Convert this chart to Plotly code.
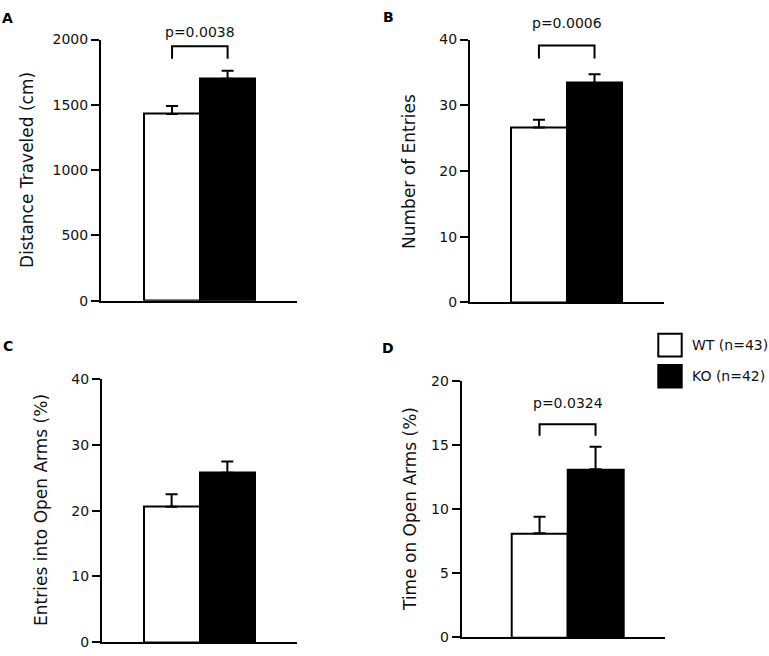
import plotly.graph_objects as go

# --- data (mean, SEM) ---
groups = ["WT (n=43)", "KO (n=42)"]
bar_colors = ["white", "black"]

distance_mean = [1430, 1700]
distance_sem = [60, 60]

entries_mean = [26.6, 33.4]
entries_sem = [1.2, 1.3]

open_entries_mean = [20.6, 25.8]
open_entries_sem = [1.9, 1.7]

open_time_mean = [8.1, 13.1]
open_time_sem = [1.3, 1.75]

y_titles = [
    "Distance Traveled (cm)",
    "Number of Entries",
    "Entries into Open Arms (%)",
    "Time on Open Arms (%)",
]
y_max = [2000, 40, 40, 20]
y_dtick = [500, 10, 10, 5]

# significance brackets: (panel, top, leg bottom, label)
brackets = [
    (0, 1948, 1853, "p=0.0038"),
    (1, 39.1, 37.1, "p=0.0006"),
    (3, 16.6, 15.7, "p=0.0324"),
]

W, H = 769, 656
FONT = "DejaVu Sans"

# panel boxes in pixels: x-left, x-right, y-top, y-bottom, x range
panels = [
    (101, 297, 32.3, 300.0, [-1.28, 2.25]),
    (470, 664, 32.3, 301.7, [-1.24, 2.25]),
    (102, 297, 380.7, 650.0, [-1.25, 2.25]),
    (461.7, 665, 382.0, 645.0, [-1.39, 2.24]),
]
letters = [("A", 7, 10.5), ("B", 388.5, 9), ("C", 7.7, 346.5), ("D", 388, 348.5)]
title_pos = [(27, 166), (409, 167), (41.5, 515), (410, 513.5)]
p_offset = {0: 14, 1: 22, 3: 21}

means = [distance_mean, entries_mean, open_entries_mean, open_time_mean]
sems = [distance_sem, entries_sem, open_entries_sem, open_time_sem]

fig = go.Figure()
annotations = []

for i, (mean, sem) in enumerate(zip(means, sems)):
    sfx = "" if i == 0 else str(i + 1)
    fig.add_trace(go.Bar(
        x=[0, 1], y=mean, width=1,
        marker=dict(color=bar_colors, line=dict(color="black", width=2)),
        error_y=dict(type="data", symmetric=False, array=sem, arrayminus=[0, 0],
                     color="black", thickness=2, width=6),
        xaxis="x" + sfx, yaxis="y" + sfx,
        showlegend=False, hoverinfo="skip",
    ))
    x0, x1, ytop, ybot, xr = panels[i]
    fig.layout["xaxis" + sfx] = dict(
        domain=[x0 / W, x1 / W], range=xr, anchor="y" + sfx,
        showline=True, linecolor="black", linewidth=2,
        showticklabels=False, ticks="", showgrid=False, zeroline=False,
    )
    fig.layout["yaxis" + sfx] = dict(
        domain=[1 - ybot / H, 1 - ytop / H], range=[0, y_max[i]], anchor="x" + sfx,
        showline=True, linecolor="black", linewidth=2,
        ticks="outside", ticklen=8, tickwidth=2, tickcolor="black",
        dtick=y_dtick[i], showgrid=False, zeroline=False,
        tickfont=dict(family=FONT, size=14, color="#111"),
    )
    tx, ty = title_pos[i]
    annotations.append(dict(
        text=y_titles[i], x=tx / W, y=1 - ty / H, xref="paper", yref="paper",
        textangle=-90, showarrow=False, xanchor="center", yanchor="middle",
        font=dict(family=FONT, size=17, color="#111"),
    ))
    lt, lx, ly = letters[i]
    annotations.append(dict(
        text="<b>" + lt + "</b>", x=lx / W, y=1 - ly / H, xref="paper", yref="paper",
        showarrow=False, xanchor="center", yanchor="middle",
        font=dict(family=FONT, size=14, color="black"),
    ))

# significance brackets
for panel, top, low, label in brackets:
    sfx = "" if panel == 0 else str(panel + 1)
    fig.add_trace(go.Scatter(
        x=[0, 0, 1, 1], y=[low, top, top, low], mode="lines",
        line=dict(color="black", width=2),
        xaxis="x" + sfx, yaxis="y" + sfx,
        showlegend=False, hoverinfo="skip", cliponaxis=False,
    ))
    annotations.append(dict(
        text=label, x=0.5, y=top, xref="x" + sfx, yref="y" + sfx,
        showarrow=False, xanchor="center", yanchor="middle", yshift=p_offset[panel],
        font=dict(family=FONT, size=14, color="#111"),
    ))

# legend drawn by hand (large square swatches)
shapes = []
legend_rows = [(334, 357.3), (366, 389)]
for (y0, y1), name, col in zip(legend_rows, groups, bar_colors):
    shapes.append(dict(
        type="rect", xref="paper", yref="paper",
        x0=658.3 / W, x1=681.7 / W, y0=1 - y1 / H, y1=1 - y0 / H,
        line=dict(color="black", width=2), fillcolor=col,
    ))
    annotations.append(dict(
        text=name, x=690 / W, y=1 - (y0 + y1) / 2 / H, xref="paper", yref="paper",
        showarrow=False, xanchor="left", yanchor="middle",
        font=dict(family=FONT, size=14, color="#111"),
    ))

fig.update_layout(
    width=W, height=H,
    margin=dict(l=0, r=0, t=0, b=0),
    paper_bgcolor="white", plot_bgcolor="white",
    bargap=0,
    annotations=annotations,
    shapes=shapes,
    font=dict(family=FONT),
)

fig.write_html("out.html", config={"displayModeBar": False},
               post_script="document.body.style.margin='0';")
